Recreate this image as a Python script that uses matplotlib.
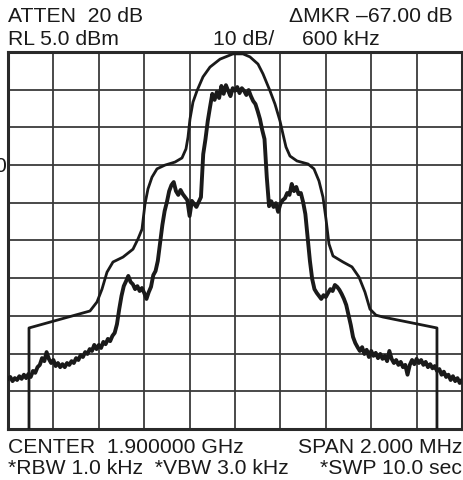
"""Spectrum analyzer screen: noisy trace with emission mask."""

import matplotlib
matplotlib.use("Agg")
import matplotlib.pyplot as plt
import numpy as np

# frequency offset from center (kHz) and level (dBm)
trace_khz = list(range(-1000, 1001, 10))
trace_dbm = [
    -81.7, -81.2, -82.3, -81.5, -82.0, -81.0, -81.7, -80.6, -81.5, -80.4,
    -81.2, -79.6, -80.1, -78.6, -78.0, -76.2, -77.0, -74.6, -76.4, -77.5,
    -76.7, -78.3, -77.5, -78.6, -77.8, -78.6, -77.5, -78.0, -77.0, -77.5,
    -76.2, -76.7, -75.4, -75.9, -74.6, -75.1, -73.8, -74.3, -72.7, -73.8,
    -72.7, -73.5, -71.9, -72.5, -71.1, -71.7, -70.3, -69.5, -67.2, -63.2,
    -59.7, -57.1, -55.8, -54.4, -56.0, -56.6, -57.9, -57.1, -58.4, -57.6,
    -58.9, -60.5, -58.7, -57.3, -54.2, -53.1, -50.4, -45.7, -40.9, -37.2,
    -34.8, -31.9, -30.3, -29.5, -31.9, -32.9, -31.6, -32.7, -33.5, -34.3,
    -38.5, -34.5, -35.3, -36.1, -34.8, -33.5, -22.1, -18.1, -13.3, -9.6,
    -6.1, -7.7, -5.6, -7.2, -4.0, -6.1, -3.8, -5.3, -6.7, -4.6,
    -5.3, -4.3, -5.9, -4.6, -5.3, -6.4, -5.1, -6.7, -8.0, -8.8,
    -10.7, -12.8, -15.7, -18.1, -28.2, -35.9, -34.6, -36.1, -35.1, -37.4,
    -35.3, -34.3, -33.8, -32.4, -32.9, -30.0, -31.9, -30.8, -32.7, -32.4,
    -34.8, -38.0, -44.1, -50.4, -55.2, -57.9, -58.9, -59.7, -60.5, -59.5,
    -60.0, -58.9, -57.9, -58.4, -56.8, -57.3, -58.1, -59.2, -60.5, -62.1,
    -64.8, -67.4, -70.6, -72.2, -73.3, -74.3, -73.3, -75.1, -74.0, -75.9,
    -74.3, -75.6, -74.8, -76.2, -75.1, -76.4, -75.6, -77.0, -74.3, -76.4,
    -77.5, -76.7, -78.0, -77.2, -78.6, -78.0, -80.6, -78.0, -76.7, -77.8,
    -76.4, -77.5, -76.7, -78.0, -77.2, -78.6, -77.8, -78.9, -78.3, -79.6,
    -79.1, -80.6, -79.8, -81.2, -80.6, -82.0, -81.0, -82.3, -81.5, -82.8,
    -82.0,
]

mask_khz = [
    -907.5, -907.5, -638.8, -607.9, -585.9, -563.9, -537.5, -493.4, -449.4,
    -427.4, -409.7, -396.5, -383.3, -365.7, -343.7, -308.4, -264.4, -233.5,
    -215.9, -207.1, -198.3, -185.1, -167.5, -141.0, -110.2, -66.1, -8.9,
    35.2, 66.0, 101.3, 123.3, 154.1, 176.1, 198.2, 211.4, 224.6, 242.2,
    273.0, 321.5, 347.9, 369.9, 387.6, 400.8, 414.0, 431.6, 475.7, 515.3,
    546.2, 572.6, 594.6, 621.0, 651.9, 889.7, 889.7,
]
mask_dbm = [
    -95.0, -68.2, -63.7, -61.3, -57.9, -53.4, -50.7, -49.4, -47.3,
    -44.6, -42.0, -35.3, -31.3, -28.2, -26.0, -25.0, -24.2, -23.1,
    -20.7, -17.6, -12.8, -8.3, -5.3, -1.6, 1.0, 3.1, 4.5,
    4.5, 3.7, 1.8, -0.8, -5.3, -8.8, -13.3, -16.8, -20.2, -22.6,
    -23.9, -24.7, -26.0, -29.2, -33.5, -39.3, -45.9, -49.1, -50.7, -52.0,
    -54.7, -58.7, -63.2, -64.8, -65.3, -68.2, -95.0,
]

ref_level = 5.0
db_per_div = 10
span_khz = 2000

W, H = 464, 481
fig = plt.figure(figsize=(W / 100, H / 100), dpi=100)
plt.rcParams["font.family"] = ["Liberation Sans", "DejaVu Sans"]

ax = fig.add_axes([8 / W, (H - 430) / H, 454 / W, 377 / H])
ax.set_xlim(-span_khz / 2, span_khz / 2)
ax.set_ylim(ref_level - 10 * db_per_div, ref_level)
ax.set_xticks(np.arange(-span_khz / 2, span_khz / 2 + 1, span_khz / 10))
ax.set_yticks(np.arange(ref_level - 10 * db_per_div, ref_level + 1, db_per_div))
ax.tick_params(length=0, labelbottom=False, labelleft=False)
ax.grid(True, color="#3a3a3a", linewidth=1.3)
for s in ax.spines.values():
    s.set_linewidth(2.2)
    s.set_color("#2a2a2a")

ax.plot(mask_khz, mask_dbm, color="#1a1a1a", linewidth=2.0, zorder=3)
ax.plot(trace_khz, trace_dbm, color="#1a1a1a", linewidth=2.8, zorder=4)

fs = 15.2
def label(x, y, s, ha="left"):
    fig.text(x / W, 1 - y / H, s, ha=ha, va="baseline", fontsize=fs, color="#1a1a1a")

label(8, 22, "ATTEN  20 dB")
label(453, 22, "\u0394MKR \u201367.00 dB", ha="right")
label(8, 45, "RL 5.0 dBm")
label(213, 45, "10 dB/")
label(302, 45, "600 kHz")
label(8, 453, "CENTER  1.900000 GHz")
label(462, 453, "SPAN 2.000 MHz", ha="right")
label(8, 474, "*RBW 1.0 kHz  *VBW 3.0 kHz")
label(462, 474, "*SWP 10.0 sec", ha="right")
# stray label clipped by the left edge of the screen, as in the reference
fig.text(0, 1 - 166 / H, "0", ha="center", va="center", fontsize=fs, color="#1a1a1a")

fig.savefig("out.png", dpi=100, facecolor="white")
